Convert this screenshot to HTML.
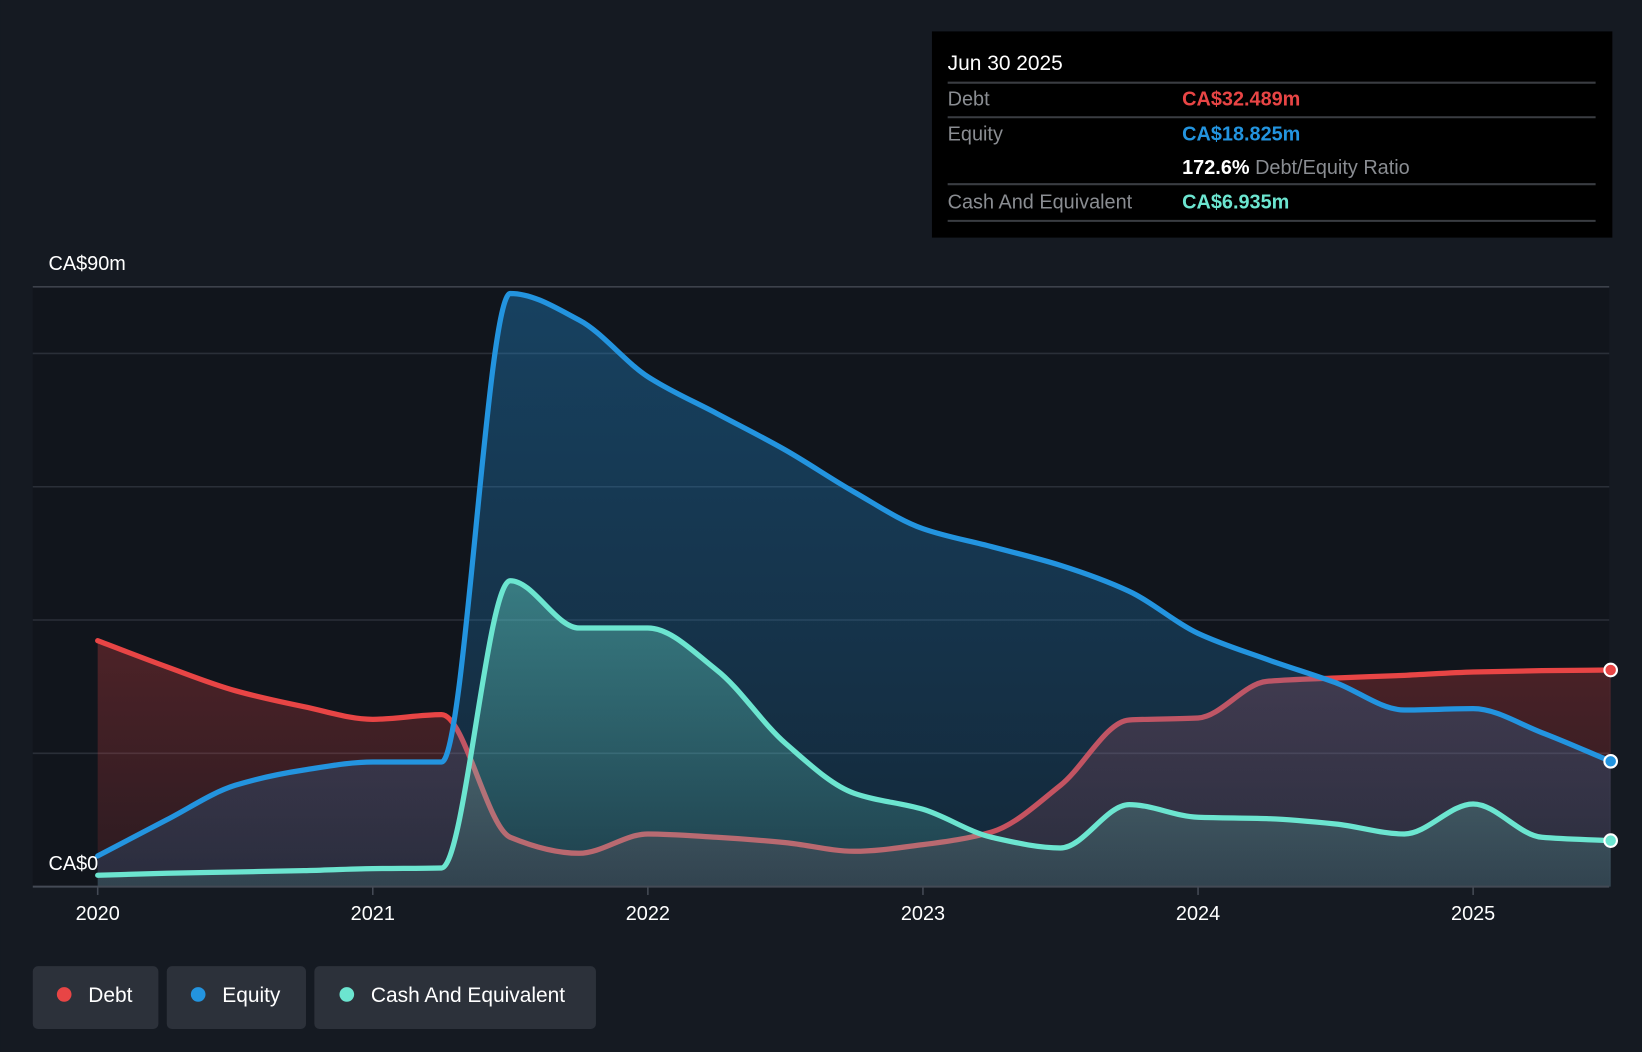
<!DOCTYPE html>
<html><head><meta charset="utf-8"><style>
html,body{margin:0;padding:0;background:#151a22;}
svg{display:block;font-family:"Liberation Sans",sans-serif;}
</style></head><body>
<svg id="chart" width="1642" height="1052" viewBox="0 0 1568 1005" xmlns="http://www.w3.org/2000/svg">
<defs>
<linearGradient id="gDebt" x1="0" y1="0" x2="0" y2="1"><stop offset="0" stop-color="#e84545" stop-opacity="0.28"/><stop offset="1" stop-color="#e84545" stop-opacity="0.12"/></linearGradient>
<linearGradient id="gEq" x1="0" y1="0" x2="0" y2="1"><stop offset="0" stop-color="#2394df" stop-opacity="0.35"/><stop offset="1" stop-color="#2394df" stop-opacity="0.15"/></linearGradient>
<linearGradient id="gCash" x1="0" y1="0" x2="0" y2="1"><stop offset="0" stop-color="#6ce5d0" stop-opacity="0.4"/><stop offset="1" stop-color="#6ce5d0" stop-opacity="0.12"/></linearGradient>
</defs>
<rect x="0" y="0" width="1568" height="1005" fill="#151a22"/>
<rect x="31" y="274" width="1506" height="573" fill="#11151c"/>
<g id="grid"></g>
<g id="series"></g>
<g id="axis"></g>
<text x="46" y="258" fill="#ffffff" font-size="19">CA$90m</text>
<text x="46" y="831" fill="#ffffff" font-size="19">CA$0</text>

<g>
<rect x="890" y="30" width="650" height="197" fill="#000000"/>
<text x="905" y="67" fill="#ffffff" font-size="20">Jun 30 2025</text>
<line x1="905" y1="79" x2="1524" y2="79" stroke="#3a3d42" stroke-width="2"/>
<text x="905" y="101" fill="#8a8d92" font-size="19">Debt</text>
<text x="1129" y="101" fill="#e84545" font-size="19" font-weight="bold">CA$32.489m</text>
<line x1="905" y1="112" x2="1524" y2="112" stroke="#3a3d42" stroke-width="2"/>
<text x="905" y="134" fill="#8a8d92" font-size="19">Equity</text>
<text x="1129" y="134" fill="#2394df" font-size="19" font-weight="bold">CA$18.825m</text>
<text x="1129" y="166" fill="#ffffff" font-size="19" font-weight="bold">172.6% <tspan fill="#8a8d92" font-weight="normal">Debt/Equity Ratio</tspan></text>
<line x1="905" y1="176" x2="1524" y2="176" stroke="#3a3d42" stroke-width="2"/>
<text x="905" y="199" fill="#8a8d92" font-size="19">Cash And Equivalent</text>
<text x="1129" y="199" fill="#6ce5d0" font-size="19" font-weight="bold">CA$6.935m</text>
<line x1="905" y1="211" x2="1524" y2="211" stroke="#3a3d42" stroke-width="2"/>
</g>

<g>
<g>
<rect x="31" y="923" width="120" height="60" rx="5" fill="#2c313a"/>
<circle cx="61" cy="950" r="7" fill="#e84545"/>
<text x="84" y="957" fill="#ffffff" font-size="20">Debt</text>
</g>
<g>
<rect x="159" y="923" width="133" height="60" rx="5" fill="#2c313a"/>
<circle cx="189" cy="950" r="7" fill="#2394df"/>
<text x="212" y="957" fill="#ffffff" font-size="20">Equity</text>
</g>
<g>
<rect x="300" y="923" width="269" height="60" rx="5" fill="#2c313a"/>
<circle cx="331" cy="950" r="7" fill="#6ce5d0"/>
<text x="354" y="957" fill="#ffffff" font-size="20">Cash And Equivalent</text>
</g>
</g>
</svg>
<script>
const dates = [2020.0,2020.25,2020.5,2020.75,2021.0,2021.25,2021.5,2021.75,2022.0,2022.25,2022.5,2022.75,2023.0,2023.25,2023.5,2023.75,2024.0,2024.25,2024.5,2024.75,2025.0,2025.25,2025.5];
const debt = [36.9,33.0,29.4,27.0,25.1,25.8,7.4,5.0,7.9,7.4,6.6,5.3,6.3,8.2,15.2,25.0,25.3,30.8,31.3,31.7,32.2,32.4,32.5];
const equity = [4.6,10.0,15.2,17.5,18.7,18.7,89.0,85.0,76.5,71.0,65.5,59.2,53.7,51.0,48.2,44.3,38.0,34.1,30.6,26.5,26.7,23.1,18.8];
const cash = [1.7,2.0,2.2,2.4,2.7,2.8,45.9,38.8,38.8,32.5,21.5,14.0,11.6,7.4,5.8,12.3,10.4,10.2,9.4,7.9,12.4,7.4,6.9];
const yTicks = [0,20,40,60,80,90];
const xTickYears = [2020,2021,2022,2023,2024,2025];

const NS = "http://www.w3.org/2000/svg";
const x = d => 93 + (d - 2020) * 262.8;
const y = v => 847 - v * 6.367;

function mk(tag, attrs, parent){const e=document.createElementNS(NS,tag);for(const k in attrs)e.setAttribute(k,attrs[k]);parent.appendChild(e);return e;}

// monotone cubic path
function monoPath(xs, ys){
  const n=xs.length, dx=[], m=[], t=[];
  for(let i=0;i<n-1;i++){dx.push(xs[i+1]-xs[i]); m.push((ys[i+1]-ys[i])/dx[i]);}
  t[0]=m[0]; t[n-1]=m[n-2];
  for(let i=1;i<n-1;i++){
    if(m[i-1]*m[i]<=0) t[i]=0;
    else { const w1=2*dx[i]+dx[i-1], w2=dx[i]+2*dx[i-1]; t[i]=(w1+w2)/(w1/m[i-1]+w2/m[i]); }
  }
  let d="M"+xs[0]+","+ys[0];
  for(let i=0;i<n-1;i++){
    const h=dx[i]/3;
    d+=" C"+(xs[i]+h)+","+(ys[i]+t[i]*h)+" "+(xs[i+1]-h)+","+(ys[i+1]-t[i+1]*h)+" "+xs[i+1]+","+ys[i+1];
  }
  return d;
}

const grid=document.getElementById('grid');
yTicks.forEach(v=>{
  const l=mk('line',{x1:31,x2:1537,y1:y(v),y2:y(v),stroke:v===90?'#3d424b':'#2a2f38','stroke-width':v===0?0:1.5},grid);
  
  
});

const g=document.getElementById('series');
const xs=dates.map(x);
function drawSeries(vals,color,grad,name){
  const ys=vals.map(y);
  const line=monoPath(xs,ys);
  const area=mk('path',{d:line+" L"+xs[xs.length-1]+","+y(0)+" L"+xs[0]+","+y(0)+" Z",fill:'url(#'+grad+')'},g);
  
  
  const p=mk('path',{d:line,fill:'none',stroke:color,'stroke-width':5,'stroke-linejoin':'round','stroke-linecap':'round'},g);
  
  
  return ys;
}
const dY=drawSeries(debt,'#e84545','gDebt','debt');
const eY=drawSeries(equity,'#2394df','gEq','equity');
const cY=drawSeries(cash,'#6ce5d0','gCash','cash');
[[dY,'#e84545','debt'],[eY,'#2394df','equity'],[cY,'#6ce5d0','cash']].forEach(([ys,c,n])=>{
  const m=mk('circle',{cx:xs[xs.length-1],cy:ys[ys.length-1],r:6,fill:c,stroke:'#ffffff','stroke-width':2},g);
  
  
});

const ax=document.getElementById('axis');
const al=mk('line',{x1:31,x2:1537,y1:847,y2:847,stroke:'#444a55','stroke-width':2},ax);


xTickYears.forEach(yr=>{
  const t=mk('line',{x1:x(yr),x2:x(yr),y1:847,y2:855,stroke:'#444a55','stroke-width':1.5},ax);
  
  
  const tx=mk('text',{x:x(yr),y:879,fill:'#ffffff','font-size':19,'text-anchor':'middle'},ax);
  tx.textContent=yr;
  
  
});
</script>
</body></html>
